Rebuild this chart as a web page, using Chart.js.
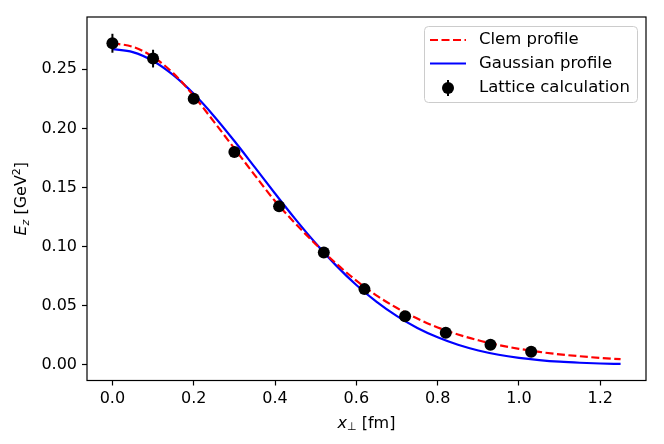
<!DOCTYPE html>
<html>
<head>
<meta charset="utf-8">
<script src="https://cdn.jsdelivr.net/npm/chart.js@4.4.1/dist/chart.umd.min.js"></script>
<style>
  html, body { margin: 0; padding: 0; background: #fff; }
  #wrap { width: 664px; height: 444px; }
</style>
</head>
<body>
<div id="wrap"><canvas id="profileChart" width="664" height="444"></canvas></div>
<script>
// lattice points
const latticeX = [0.0, 0.10, 0.20, 0.30, 0.41, 0.52, 0.62, 0.72, 0.82, 0.93, 1.03];
const latticeY = [0.272, 0.259, 0.225, 0.180, 0.134, 0.095, 0.064, 0.041, 0.027, 0.017, 0.011];
const latticeErr = [0.008, 0.0075, 0.003, 0.003, 0.002, 0.0015, 0.0015, 0.001, 0.001, 0.001, 0.001];

// fitted profiles sampled along x
const curveX = [0.0, 0.05, 0.10, 0.15, 0.20, 0.25, 0.30, 0.35, 0.40, 0.45, 0.50, 0.55, 0.60,
                0.65, 0.70, 0.75, 0.80, 0.85, 0.90, 0.95, 1.00, 1.05, 1.10, 1.15, 1.20, 1.25];
const clemY = [0.2720, 0.2690, 0.2605, 0.2465, 0.2275, 0.2055, 0.1830, 0.1605, 0.1385, 0.1195,
               0.1020, 0.0858, 0.0712, 0.0585, 0.0480, 0.0391, 0.0316, 0.0256, 0.0207, 0.0167,
               0.0135, 0.0109, 0.0088, 0.0072, 0.0058, 0.0047];
const gaussY = [0.2670, 0.2645, 0.2570, 0.2450, 0.2292, 0.2103, 0.1893, 0.1672, 0.1449, 0.1232,
                0.1028, 0.0841, 0.0675, 0.0532, 0.0411, 0.0311, 0.0232, 0.0169, 0.0121, 0.0085,
                0.0059, 0.0040, 0.0026, 0.0017, 0.0011, 0.0007];

const xTicks = [0.0, 0.2, 0.4, 0.6, 0.8, 1.0, 1.2];
const yTicks = [0.00, 0.05, 0.10, 0.15, 0.20, 0.25];

const FONT = "'DejaVu Sans', 'Liberation Sans', sans-serif";
const toPoints = (xs, ys) => xs.map((x, i) => ({ x: x, y: ys[i] }));

function drawRich(ctx, parts, x, y, angle) {
  ctx.save();
  ctx.translate(x, y);
  ctx.rotate(angle);
  ctx.textAlign = 'left';
  ctx.textBaseline = 'alphabetic';
  ctx.fillStyle = '#000';
  let total = 0;
  parts.forEach(p => { ctx.font = p.font; p.w = ctx.measureText(p.t).width; total += p.w; });
  let cx = -total / 2;
  parts.forEach(p => { ctx.font = p.font; ctx.fillText(p.t, cx, p.dy || 0); cx += p.w; });
  ctx.restore();
}

// error bars, frame, legend and axis titles
const extras = {
  id: 'extras',
  beforeDatasetDraw(chart, args) {
    if (args.index !== 0) return;
    const ctx = chart.ctx, xs = chart.scales.x, ys = chart.scales.y;
    ctx.save();
    ctx.strokeStyle = '#000';
    ctx.lineWidth = 2;
    latticeX.forEach((x, i) => {
      const px = xs.getPixelForValue(x);
      ctx.beginPath();
      ctx.moveTo(px, ys.getPixelForValue(latticeY[i] - latticeErr[i]));
      ctx.lineTo(px, ys.getPixelForValue(latticeY[i] + latticeErr[i]));
      ctx.stroke();
    });
    ctx.restore();
  },
  afterDraw(chart) {
    const ctx = chart.ctx, a = chart.chartArea;
    ctx.save();
    ctx.strokeStyle = '#000';
    ctx.lineWidth = 1.2;
    ctx.strokeRect(a.left, a.top, a.right - a.left, a.bottom - a.top);

    // legend
    const lx = 424.5, ly = 26.5, lw = 213, lh = 76;
    ctx.beginPath();
    ctx.roundRect(lx, ly, lw, lh, 4);
    ctx.fillStyle = 'rgba(255,255,255,0.8)';
    ctx.fill();
    ctx.strokeStyle = '#cccccc';
    ctx.lineWidth = 1;
    ctx.stroke();

    const rows = [40, 63.5, 88];
    ctx.lineWidth = 2.2;
    ctx.strokeStyle = '#ff0000';
    ctx.setLineDash([8, 3.5]);
    ctx.beginPath(); ctx.moveTo(430, rows[0]); ctx.lineTo(466, rows[0]); ctx.stroke();
    ctx.setLineDash([]);
    ctx.strokeStyle = '#0000ff';
    ctx.beginPath(); ctx.moveTo(430, rows[1]); ctx.lineTo(466, rows[1]); ctx.stroke();
    ctx.strokeStyle = '#000';
    ctx.lineWidth = 2;
    ctx.beginPath(); ctx.moveTo(448, rows[2] - 8); ctx.lineTo(448, rows[2] + 8); ctx.stroke();
    ctx.fillStyle = '#000';
    ctx.beginPath(); ctx.arc(448, rows[2], 6, 0, Math.PI * 2); ctx.fill();

    ctx.font = '16.5px ' + FONT;
    ctx.textBaseline = 'middle';
    ctx.textAlign = 'left';
    ctx.fillText('Clem profile', 479, rows[0]);
    ctx.fillText('Gaussian profile', 479, rows[1]);
    ctx.fillText('Lattice calculation', 479, rows[2]);
    ctx.restore();

    // axis titles
    const reg = '16px ' + FONT, ita = 'italic 16px ' + FONT;
    const small = '11px ' + FONT, smallIta = 'italic 11px ' + FONT;
    drawRich(ctx, [
      { t: 'x', font: ita },
      { t: '\u22A5', font: small, dy: 2.5 },
      { t: ' [fm]', font: reg }
    ], (a.left + a.right) / 2, 427.5, 0);
    drawRich(ctx, [
      { t: 'E', font: ita },
      { t: 'z', font: smallIta, dy: 3 },
      { t: ' [GeV', font: reg },
      { t: '2', font: small, dy: -6.5 },
      { t: ']', font: reg }
    ], 26, (a.top + a.bottom) / 2, -Math.PI / 2);
  }
};

const ctx = document.getElementById('profileChart').getContext('2d');
const chart = new Chart(ctx, {
  type: 'scatter',
  data: {
    datasets: [{
      label: 'Lattice calculation',
      data: toPoints(latticeX, latticeY),
      order: 0,
      showLine: false,
      pointRadius: 6,
      pointBackgroundColor: '#000',
      pointBorderWidth: 0
    }, {
      label: 'Clem profile',
      data: toPoints(curveX, clemY),
      order: 1,
      showLine: true,
      borderColor: '#ff0000',
      borderWidth: 2.2,
      borderDash: [8, 3.5],
      pointRadius: 0,
      cubicInterpolationMode: 'monotone'
    }, {
      label: 'Gaussian profile',
      data: toPoints(curveX, gaussY),
      order: 2,
      showLine: true,
      borderColor: '#0000ff',
      borderWidth: 2.2,
      pointRadius: 0,
      cubicInterpolationMode: 'monotone'
    }]
  },
  options: {
    responsive: false,
    animation: false,
    events: [],
    layout: { padding: { top: 17, right: 18, left: 0, bottom: 0 } },
    scales: {
      x: {
        type: 'linear',
        min: -0.0625,
        max: 1.3125,
        afterBuildTicks: s => { s.ticks = xTicks.map(v => ({ value: v })); },
        afterFit: s => { s.height = 63.5; },
        border: { display: false },
        grid: { drawOnChartArea: false, drawTicks: true, tickLength: 5, tickWidth: 1.2, tickColor: '#000' },
        ticks: { color: '#000', padding: 4, font: { family: FONT, size: 16 },
                 maxRotation: 0, callback: v => v.toFixed(1) }
      },
      y: {
        type: 'linear',
        min: -0.0133,
        max: 0.2942,
        afterBuildTicks: s => { s.ticks = yTicks.map(v => ({ value: v })); },
        afterFit: s => { s.width = 87; },
        border: { display: false },
        grid: { drawOnChartArea: false, drawTicks: true, tickLength: 5, tickWidth: 1.2, tickColor: '#000' },
        ticks: { color: '#000', padding: 5, font: { family: FONT, size: 16 },
                 callback: v => v.toFixed(2) }
      }
    },
    plugins: {
      legend: { display: false },
      tooltip: { enabled: false }
    }
  },
  plugins: [extras]
});
</script>
</body>
</html>
